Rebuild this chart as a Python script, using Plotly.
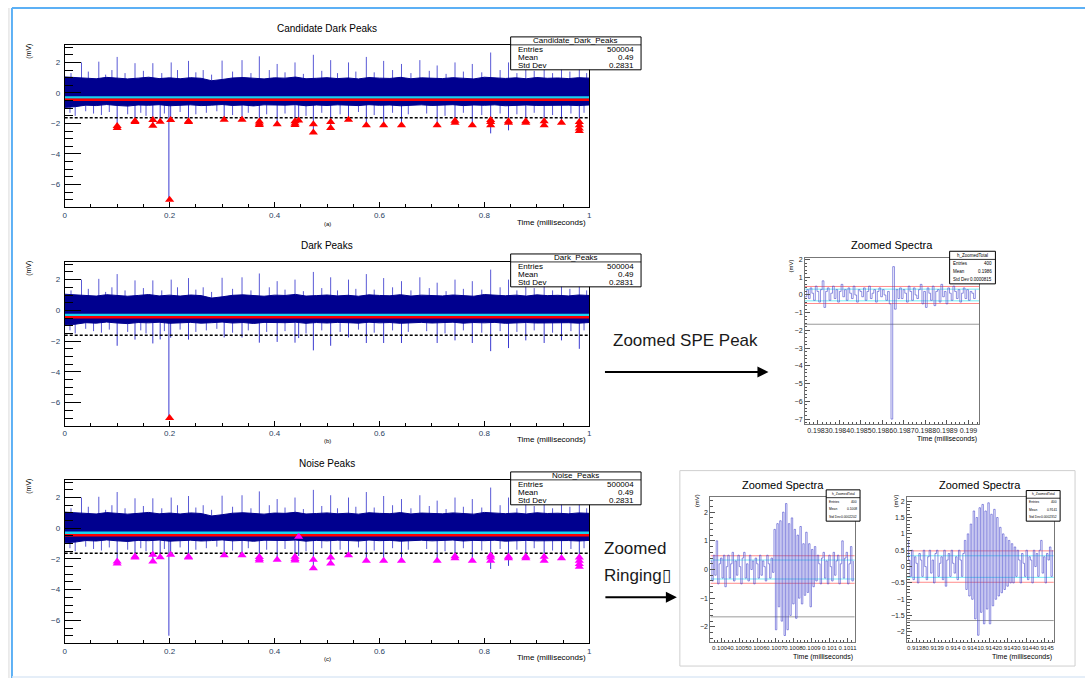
import plotly.graph_objects as go

W, H = 1088, 678
FONT = "Liberation Sans"

# ---------------- overview waveform (shared by panels a, b, c) ----------------
band_t = [0.00, 0.02, 0.04, 0.06, 0.08, 0.10, 0.12, 0.14, 0.16, 0.18,
          0.20, 0.22, 0.24, 0.26, 0.28, 0.30, 0.32, 0.34, 0.36, 0.38,
          0.40, 0.42, 0.44, 0.46, 0.48, 0.50, 0.52, 0.54, 0.56, 0.58,
          0.60, 0.62, 0.64, 0.66, 0.68, 0.70, 0.72, 0.74, 0.76, 0.78,
          0.80, 0.82, 0.84, 0.86, 0.88, 0.90, 0.92, 0.94, 0.96, 0.98, 1.00]
band_hi = [1.05, 1.02, 1.0, 0.93, 1.02, 0.96, 0.92, 0.97, 1.03, 0.94,
           0.99, 0.93, 1.0, 0.96, 0.80, 0.88, 0.98, 1.01, 0.95, 0.92,
           0.99, 0.97, 1.04, 0.93, 0.96, 1.0, 0.94, 0.98, 0.92, 1.01,
           0.97, 0.95, 1.02, 0.93, 0.99, 0.96, 0.94, 1.0, 0.97, 0.92,
           1.03, 0.98, 0.95, 0.99, 0.93, 1.01, 0.96, 0.98, 0.94, 1.0, 0.97]
band_lo = [-0.95, -0.9, -0.8, -0.83, -0.76, -0.82, -0.86, -0.79, -0.81, -0.77,
           -0.84, -0.8, -0.78, -0.83, -0.8, -0.76, -0.82, -0.79, -0.85, -0.78,
           -0.81, -0.8, -0.77, -0.84, -0.79, -0.82, -0.78, -0.8, -0.83, -0.77,
           -0.81, -0.79, -0.84, -0.8, -0.78, -0.82, -0.8, -0.77, -0.83, -0.79,
           -0.81, -0.78, -0.84, -0.8, -0.79, -0.82, -0.78, -0.81, -0.8, -0.83, -0.79]

# large positive excursions (ms, mV)
up_t = [0.032, 0.065, 0.100, 0.134, 0.168, 0.203, 0.236, 0.264, 0.300, 0.338,
        0.371, 0.405, 0.439, 0.474, 0.507, 0.541, 0.575, 0.608, 0.642, 0.677,
        0.710, 0.744, 0.777, 0.812, 0.846, 0.879, 0.914, 0.947, 0.981]
up_mv = [2.0, 2.05, 2.36, 1.95, 1.95, 2.0, 2.1, 1.5, 2.12, 2.15,
         2.4, 1.9, 2.0, 2.5, 2.15, 2.0, 2.36, 2.1, 1.9, 2.15,
         1.8, 2.0, 1.9, 2.65, 2.0, 2.05, 1.9, 1.7, 1.8]

# smaller positive hairs
hair_up_t = [0.012, 0.045, 0.078, 0.090, 0.115, 0.150, 0.185, 0.215, 0.250, 0.280,
             0.320, 0.355, 0.390, 0.420, 0.455, 0.490, 0.520, 0.555, 0.590, 0.625,
             0.660, 0.695, 0.727, 0.760, 0.795, 0.830, 0.862, 0.895, 0.930, 0.963, 0.995]
hair_up_mv = [1.3, 1.4, 1.2, 1.5, 1.3, 1.45, 1.3, 1.5, 1.35, 1.2,
              1.4, 1.3, 1.5, 1.35, 1.25, 1.45, 1.3, 1.4, 1.35, 1.5,
              1.3, 1.45, 1.25, 1.4, 1.35, 1.5, 1.3, 1.45, 1.3, 1.4, 1.3]

# negative excursions (the pulse at ~0.1986 ms is the single-photoelectron peak)
dip_t = [0.100, 0.134, 0.168, 0.182, 0.1986, 0.202, 0.236, 0.304, 0.338, 0.371,
         0.405, 0.439, 0.446, 0.474, 0.507, 0.541, 0.575, 0.608, 0.642, 0.710,
         0.744, 0.777, 0.812, 0.846, 0.879, 0.914, 0.947, 0.981]
dip_mv = [-2.3, -1.9, -2.15, -1.89, -7.0, -1.77, -1.9, -1.76, -1.76, -2.1,
          -2.05, -2.1, -1.8, -2.6, -2.3, -1.76, -2.12, -2.12, -2.12, -2.12,
          -1.95, -2.12, -2.65, -2.45, -1.95, -2.12, -1.95, -2.5]

hair_dn_t = [0.010, 0.020, 0.040, 0.055, 0.070, 0.085, 0.120, 0.145, 0.155, 0.190,
             0.220, 0.250, 0.270, 0.290, 0.320, 0.350, 0.385, 0.420, 0.460, 0.490,
             0.525, 0.560, 0.590, 0.625, 0.655, 0.690, 0.725, 0.760, 0.795, 0.830,
             0.862, 0.895, 0.930, 0.965, 0.990]
hair_dn_mv = [-1.3, -1.5, -1.2, -1.35, -1.45, -1.25, -1.4, -1.3, -1.5, -1.35,
              -1.25, -1.4, -1.3, -1.2, -1.45, -1.3, -1.4, -1.35, -1.5, -1.3,
              -1.4, -1.25, -1.45, -1.3, -1.4, -1.35, -1.5, -1.3, -1.45, -1.35,
              -1.4, -1.3, -1.45, -1.35, -1.3]

# reference levels (mV)
level_cyan = -0.3
level_red = -0.45
level_threshold = -1.62

# found peaks (ms, mV)
cand_t = [0.100, 0.100, 0.134, 0.134, 0.168, 0.168, 0.182, 0.202, 0.236, 0.236,
          0.304, 0.338, 0.371, 0.371, 0.371, 0.405, 0.439, 0.439, 0.439, 0.446,
          0.474, 0.474, 0.507, 0.507, 0.541, 0.575, 0.608, 0.642, 0.710, 0.744,
          0.744, 0.777, 0.812, 0.812, 0.812, 0.846, 0.846, 0.879, 0.879, 0.914,
          0.914, 0.947, 0.981, 0.981, 0.981, 0.981, 0.200]
cand_mv = [-2.16, -2.3, -1.84, -1.9, -1.78, -2.15, -1.89, -1.77, -1.85, -1.9,
           -1.76, -1.76, -1.87, -2.0, -2.1, -2.05, -1.85, -2.0, -2.1, -1.8,
           -2.05, -2.6, -1.9, -2.3, -1.76, -2.12, -2.12, -2.12, -2.12, -1.83,
           -1.95, -2.12, -1.77, -1.9, -2.12, -1.85, -1.95, -1.85, -1.95, -1.85,
           -2.12, -1.95, -1.9, -2.12, -2.33, -2.5, -7.0]

dark_t = [0.200]
dark_mv = [-7.0]

noise_t = [0.100, 0.100, 0.134, 0.134, 0.168, 0.168, 0.182, 0.202, 0.236, 0.236,
           0.304, 0.338, 0.371, 0.371, 0.371, 0.405, 0.439, 0.439, 0.439, 0.446,
           0.474, 0.474, 0.507, 0.507, 0.541, 0.575, 0.608, 0.642, 0.710, 0.744,
           0.744, 0.777, 0.812, 0.812, 0.812, 0.846, 0.846, 0.879, 0.879, 0.914,
           0.914, 0.947, 0.981, 0.981, 0.981, 0.981]
noise_mv = [-2.16, -2.3, -1.84, -1.9, -1.73, -2.17, -1.89, -1.73, -1.85, -1.9,
            -1.76, -1.76, -1.87, -2.0, -2.1, -2.05, -1.85, -2.0, -2.1, -0.55,
            -2.05, -2.6, -1.9, -2.3, -1.76, -2.12, -2.12, -2.12, -2.12, -1.83,
            -1.95, -2.12, -1.77, -1.9, -2.12, -1.85, -1.95, -1.85, -1.95, -1.85,
            -2.12, -1.95, -1.9, -2.12, -2.33, -2.5]

stats_entries = "500004"
stats_mean = "0.49"
stats_std = "0.2831"
x_ticks = [0, 0.2, 0.4, 0.6, 0.8, 1]
y_ticks = [-6, -4, -2, 0, 2]

# ---------------- zoomed histograms (400 entries each) ----------------
spe_t0, spe_bin = 0.19824, 0.000008
spe_mv = [-0.1, 0.3, -0.2, 0.4, 0.1, -0.3, 0.5, 0.2, -0.4, 0.3,
          0.8, -0.7, 0.2, 0.4, -0.3, 0.1, 0.5, -0.2, 0.3, -0.4,
          0.2, 0.6, -0.1, 0.3, -0.3, 0.4, 0.1, -0.2, 0.5, 0.0,
          -0.4, 0.3, 0.2, -0.1, 0.4, -0.3, 0.2, 0.5, -0.2, 0.1,
          0.3, -0.4, 0.2, 0.4, -0.1, 0.3, 0.0, -0.3, 0.2, -0.5,
          -7.0, 1.6, -0.8, 0.3, -0.2,
          0.4, -0.2, 0.3, 0.1, -0.4, 0.5, 0.2, -0.3, 0.4, 0.0,
          -0.2, 0.3, 0.6, -0.5, 0.2, -0.7, 0.4, 0.1, -0.3, 0.5,
          -0.6, 0.2, 0.3, -0.4, 0.6, -0.1, 0.2, -0.5, 0.4, 0.1,
          -0.3, 0.5, 0.2, -0.2, 0.3, -0.4, 0.1, 0.4, -0.2, 0.3,
          -0.3, 0.2, 0.1, -0.2, 0.3]

ring1_t0, ring1_bin = 0.10034, 0.000008
ring1_mv = [0.3, -0.4, 0.5, -0.2, 1.0, -0.5, 0.2, 0.4, -0.3, 0.5,
            -0.6, 0.1, 0.5, -0.3, 0.2, 0.6, -0.4, 0.3, -0.2, 0.5,
            0.1, -0.5, 0.4, 0.6, -0.3, 0.2, -0.4, 0.5, 0.0, 0.3,
            -0.5, 0.4, 0.2, -0.3, 0.5, -0.2, 0.3, 0.1, -0.4, 0.5,
            0.2, -0.3, 0.4, -0.1,
            1.4, -2.1, 1.6, -1.3, 1.7, -1.8, 2.0, -2.3, 2.3, -2.1,
            1.6, -1.6, 1.8, -1.2, 1.4, -1.7, 1.2, -1.0, 1.5, -1.2,
            0.9, -0.9, 1.3, -0.8, 0.9, -1.3, 0.7, -0.6, 0.8,
            -0.4, 0.5, 0.2, -0.5, 0.4, 0.6, -0.3, 0.3, -0.5, 0.5,
            0.1, -0.4, 0.6, -0.2, 0.3, 0.5, -0.5, 0.2, 1.0, -0.3,
            0.4, 0.6, -0.5, 0.2, 0.8, -0.4, 0.3]

ring2_t0, ring2_bin = 0.91375, 0.000008
ring2_mv = [0.8, 0.2, -0.3, 0.5, -0.4, 0.3, 0.1, -0.5, 0.4, 0.2,
            -0.3, 0.5, 0.0, -0.4, 0.3, 0.5, -0.2, 0.2, -0.5, 0.4,
            0.5, -0.3, 0.1, 0.3, -0.4, 0.5, -0.6, 0.2, 0.4, -0.3,
            0.5, 0.1, -0.2, 0.3, -0.4, 0.5, 0.2, -0.3, 0.4,
            0.8, -0.7, 1.0, -0.9, 1.3, -1.0, 1.7, -1.6, 1.5, -2.1,
            1.8, -1.4, 1.9, -1.75, 1.7, -1.3, 1.95, -1.75, 1.6, -1.2,
            1.75, -1.0, 1.5, -0.9, 1.2, -0.8, 1.0, -0.7, 0.9, -0.6,
            0.8, -0.5, 0.7, -0.5, 0.6,
            -0.3, 0.5, 0.2, -0.5, 0.4, 0.1, -0.3, 0.5, -0.4, 0.3,
            0.2, -0.5, 0.5, 0.0, 0.4, -0.3, 0.5, 0.8, -0.2, 0.3,
            -0.5, 0.4, 0.2, 0.6, -0.3, 0.5]

zoom_levels = dict(red=0.48, cyan=0.33, gray=-1.65)

spe_ticks = [0.1983, 0.1984, 0.1985, 0.1986, 0.1987, 0.1988, 0.1989, 0.1990]
spe_ticktext = ["0.1983", "0.1984", "0.1985", "0.1986", "0.1987", "0.1988", "0.1989", "0.199"]
ring1_ticks = [0.1004, 0.1005, 0.1006, 0.1007, 0.1008, 0.1009, 0.1010, 0.1011]
ring1_ticktext = ["0.1004", "0.1005", "0.1006", "0.1007", "0.1008", "0.1009", "0.101", "0.1011"]
ring2_ticks = [0.9138, 0.9139, 0.9140, 0.9141, 0.9142, 0.9143, 0.9144, 0.9145]
ring2_ticktext = ["0.9138", "0.9139", "0.914", "0.9141", "0.9142", "0.9143", "0.9144", "0.9145"]

# ---------------- helpers ----------------
def px(x):
    return x / W


def py(y):
    return 1 - y / H


def segments(ts, base, vals):
    xs, ys = [], []
    for t, v in zip(ts, vals):
        xs += [t, t, None]
        ys += [base, v, None]
    return xs, ys


def bins(t0, width, n):
    return [t0 + i * width for i in range(n)]


fig = go.Figure()
annotations = []
shapes = []
layout_axes = {}

NAVY = "#00008f"
HAIR = "#5a5ad6"


def text(x, y, s, size, xanchor="center", yanchor="middle", angle=0, color="black"):
    annotations.append(dict(x=px(x), y=py(y), xref="paper", yref="paper", text=s,
                            showarrow=False, xanchor=xanchor, yanchor=yanchor,
                            textangle=angle, font=dict(family=FONT, size=size, color=color)))


def stats_box(x0, x1, y0, y1, header, rows, size, head_h, pad):
    shapes.append(dict(type="rect", xref="paper", yref="paper", x0=px(x0), x1=px(x1),
                       y0=py(y0), y1=py(y1), line=dict(color="black", width=1),
                       fillcolor="white", layer="above"))
    shapes.append(dict(type="line", xref="paper", yref="paper", x0=px(x0), x1=px(x1),
                       y0=py(y0 + head_h), y1=py(y0 + head_h),
                       line=dict(color="black", width=0.8), layer="above"))
    text((x0 + x1) / 2, y0 + head_h / 2, header, size)
    rh = (y1 - y0 - head_h) / len(rows)
    for i, (k, v) in enumerate(rows):
        yc = y0 + head_h + rh * (i + 0.5)
        text(x0 + pad, yc, k, size, xanchor="left")
        text(x1 - pad, yc, v, size, xanchor="right")


# ---------------- overview panels ----------------
panels = [
    dict(n="", top=43, bot=206, title="Candidate Dark Peaks", name="Candidate_Dark_Peaks",
         tag="(a)", pt=cand_t, pv=cand_mv, pc="#ff0000"),
    dict(n="2", top=260.7, bot=425, title="Dark Peaks", name="Dark_Peaks",
         tag="(b)", pt=dark_t, pv=dark_mv, pc="#ff0000"),
    dict(n="3", top=479.3, bot=643.3, title="Noise Peaks", name="Noise_Peaks",
         tag="(c)", pt=noise_t, pv=noise_mv, pc="#ff00ff"),
]
X0, X1 = 63, 590

for p in panels:
    xa, ya = "x" + p["n"], "y" + p["n"]
    # hairs and spikes
    for ts, base, vs, col in [(hair_up_t, 0.8, hair_up_mv, HAIR), (hair_dn_t, -0.7, hair_dn_mv, HAIR),
                              (up_t, 0.8, up_mv, HAIR), (dip_t, -0.7, dip_mv, "#3a3ad0")]:
        sx, sy = segments(ts, base, vs)
        fig.add_trace(go.Scatter(x=sx, y=sy, mode="lines", xaxis=xa, yaxis=ya,
                                 line=dict(color=col, width=1), hoverinfo="skip", showlegend=False))
    # dense noise band
    fig.add_trace(go.Scatter(x=band_t + band_t[::-1], y=band_hi + band_lo[::-1], mode="lines",
                             fill="toself", fillcolor=NAVY, line=dict(color=NAVY, width=1),
                             xaxis=xa, yaxis=ya, hoverinfo="skip", showlegend=False))
    # reference levels
    fig.add_trace(go.Scatter(x=[0, 1], y=[level_cyan] * 2, mode="lines", xaxis=xa, yaxis=ya,
                             line=dict(color="#19d3ee", width=2.5), showlegend=False))
    fig.add_trace(go.Scatter(x=[0, 1], y=[level_red] * 2, mode="lines", xaxis=xa, yaxis=ya,
                             line=dict(color="#ff0000", width=2.5), showlegend=False))
    fig.add_trace(go.Scatter(x=[0, 1], y=[level_threshold] * 2, mode="lines", xaxis=xa, yaxis=ya,
                             line=dict(color="black", width=1.5, dash="3px,2px"), showlegend=False))
    # found peaks
    fig.add_trace(go.Scatter(x=p["pt"], y=p["pv"], mode="markers", xaxis=xa, yaxis=ya,
                             marker=dict(symbol="triangle-up", size=8, color=p["pc"]),
                             showlegend=False))

    layout_axes["xaxis" + p["n"]] = dict(
        domain=[px(X0), px(X1)], range=[0, 1], anchor=ya, showline=True, linecolor="black",
        linewidth=1, mirror=True, showgrid=False, zeroline=False, ticks="inside", ticklen=5,
        tickcolor="black", tickvals=x_ticks, tickfont=dict(family=FONT, size=8),
        ticklabelstandoff=0,
        minor=dict(ticks="inside", ticklen=3, dtick=0.05, tick0=0, tickcolor="black", showgrid=False))
    layout_axes["yaxis" + p["n"]] = dict(
        domain=[py(p["bot"]), py(p["top"])], range=[-7.5, 3.15], anchor=xa, showline=True,
        linecolor="black", linewidth=1, mirror=True, showgrid=False, zeroline=False,
        ticks="inside", ticklen=16, tickcolor="black", tickvals=y_ticks,
        tickfont=dict(family=FONT, size=8), ticklabelstandoff=2,
        minor=dict(ticks="inside", ticklen=8, dtick=0.5, tick0=0, tickcolor="black", showgrid=False))

    off = p["top"] - 43
    text(327, 27 + off, p["title"], 10)
    text(27, 49 + off, "(mV)", 7, angle=-90)
    text(589, 221 + off, "Time (milliseconds)", 8, xanchor="right")
    text(327, 222.5 + off, p["tag"], 6)
    stats_box(511, 642, 35 + off, 68 + off, p["name"],
              [("Entries", stats_entries), ("Mean", stats_mean), ("Std Dev", stats_std)],
              8, 8, 5)

# ---------------- zoomed spectra ----------------
zooms = [
    dict(n="4", x0=806.7, x1=981.7, top=256.7, bot=423.3, t0=spe_t0, w=spe_bin, mv=spe_mv,
         xr=[0.19824, 0.19905], yr=[-7.28, 2.09], tv=spe_ticks, tt=spe_ticktext, tfs=7,
         yticks=[-7, -6, -5, -4, -3, -2, -1, 0, 1, 2], ytt=None, ymin=0.2,
         box=(952, 998, 250, 282.7), bfs=4.5, mean="0.1986", std="0.0000815",
         title_y=244, mv_lab=(793, 265)),
    dict(n="5", x0=711.7, x1=856.7, top=496.7, bot=641.7, t0=ring1_t0, w=ring1_bin, mv=ring1_mv,
         xr=[0.10034, 0.10114], yr=[-2.52, 2.52], tv=ring1_ticks, tt=ring1_ticktext, tfs=6,
         yticks=[-2, -1, 0, 1, 2], ytt=None, ymin=0.2,
         box=(828, 862, 489.3, 520.7), bfs=3.3, mean="0.1008", std="0.0002202",
         title_y=484, mv_lab=(698, 500)),
    dict(n="6", x0=909.3, x1=1056.7, top=496.7, bot=641.7, t0=ring2_t0, w=ring2_bin, mv=ring2_mv,
         xr=[0.91375, 0.91455], yr=[-2.3, 2.12], tv=ring2_ticks, tt=ring2_ticktext, tfs=6,
         yticks=[-2, -1.5, -1, -0.5, 0, 0.5, 1, 1.5, 2],
         ytt=["−2", "−1.5", "−1", "−0.5", "0", "0.5", "1", "1.5", "2"], ymin=0.1,
         box=(1029, 1063, 490, 520.7), bfs=3.3, mean="0.9141", std="0.0002352",
         title_y=484, mv_lab=(898, 500)),
]

for z in zooms:
    xa, ya = "x" + z["n"], "y" + z["n"]
    t = bins(z["t0"], z["w"], len(z["mv"]))
    for lv, col in [(zoom_levels["red"], "rgba(255,90,90,0.7)"), (-zoom_levels["red"], "rgba(255,90,90,0.7)"),
                    (zoom_levels["cyan"], "rgba(60,225,240,0.7)"), (-zoom_levels["cyan"], "rgba(60,225,240,0.7)"),
                    (zoom_levels["gray"], "#9a9a9a")]:
        fig.add_trace(go.Scatter(x=z["xr"], y=[lv, lv], mode="lines", xaxis=xa, yaxis=ya,
                                 line=dict(color=col, width=1), showlegend=False))
    fig.add_trace(go.Scatter(x=t, y=z["mv"], mode="lines", line_shape="hv", xaxis=xa, yaxis=ya,
                             line=dict(color="rgba(70,70,205,0.6)", width=1), showlegend=False))
    layout_axes["xaxis" + z["n"]] = dict(
        domain=[px(z["x0"]), px(z["x1"])], range=z["xr"], anchor=ya, showline=True,
        linecolor="#777", linewidth=1, mirror=True, showgrid=False, zeroline=False,
        ticks="inside", ticklen=4, tickcolor="#555", tickvals=z["tv"], ticktext=z["tt"],
        tickangle=0, tickfont=dict(family=FONT, size=z["tfs"], color="#222"),
        ticklabelstandoff=0,
        minor=dict(ticks="inside", ticklen=2, dtick=0.00002, tick0=z["tv"][0], tickcolor="#555",
                   showgrid=False))
    yax = dict(
        domain=[py(z["bot"]), py(z["top"])], range=z["yr"], anchor=xa, showline=True,
        linecolor="#777", linewidth=1, mirror=True, showgrid=False, zeroline=False,
        ticks="inside", ticklen=5, tickcolor="#555", tickvals=z["yticks"],
        tickfont=dict(family=FONT, size=7, color="#222"),
        minor=dict(ticks="inside", ticklen=2.5, dtick=z["ymin"], tick0=0, tickcolor="#555",
                   showgrid=False))
    if z["ytt"]:
        yax["ticktext"] = z["ytt"]
    layout_axes["yaxis" + z["n"]] = yax

    text((z["x0"] + z["x1"]) / 2, z["title_y"], "Zoomed Spectra", 11)
    text(z["mv_lab"][0], z["mv_lab"][1], "(mV)", 6, angle=-90)
    text(z["x1"], z["bot"] + 15, "Time (milliseconds)", 7, xanchor="right")
    bx0, bx1, by0, by1 = z["box"]
    stats_box(bx0, bx1, by0, by1, "h_ZoomedTotal",
              [("Entries", "400"), ("Mean", z["mean"]), ("Std Dev", z["std"])],
              z["bfs"], (by1 - by0) * 0.25, 1.2)

# frame around the two ringing spectra
shapes.append(dict(type="rect", xref="paper", yref="paper", x0=px(681), x1=px(1078),
                   y0=py(470), y1=py(666), line=dict(color="#cfcfcf", width=1)))

# slide frame
shapes.append(dict(type="line", xref="paper", yref="paper", x0=px(10), x1=1, y0=py(6), y1=py(6),
                   line=dict(color="#5cb0f5", width=2)))
shapes.append(dict(type="line", xref="paper", yref="paper", x0=px(10), x1=px(10), y0=py(6), y1=0,
                   line=dict(color="#5cb0f5", width=2)))
shapes.append(dict(type="line", xref="paper", yref="paper", x0=px(7), x1=px(7), y0=py(6), y1=0,
                   line=dict(color="#d9d9d9", width=1)))
shapes.append(dict(type="line", xref="paper", yref="paper", x0=px(10), x1=1, y0=py(677), y1=py(677),
                   line=dict(color="#dce9f6", width=1.5)))

# callouts
text(612, 340, "Zoomed SPE Peak", 17, xanchor="left", color="#1a1a1a")
text(603, 548, "Zoomed", 17, xanchor="left", color="#1a1a1a")
text(603, 575, "Ringing\u25AF", 17, xanchor="left", color="#1a1a1a")
for x_head, length, yy in [(770, 165, 371), (678, 73, 597)]:
    annotations.append(dict(x=px(x_head), y=py(yy), xref="paper", yref="paper", ax=-length, ay=0,
                            text="", showarrow=True, arrowhead=2, arrowsize=1.1, arrowwidth=2,
                            arrowcolor="black"))

fig.update_layout(width=W, height=H, margin=dict(l=0, r=0, t=0, b=0),
                  paper_bgcolor="white", plot_bgcolor="white", showlegend=False,
                  annotations=annotations, shapes=shapes, **layout_axes)

fig.write_html("out.html", config=dict(displayModeBar=False))
